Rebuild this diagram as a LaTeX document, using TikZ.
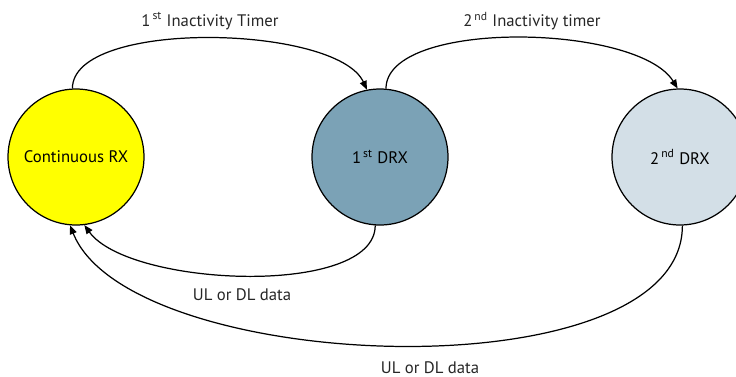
\documentclass[tikz,border=0pt]{standalone}
\usepackage{fontspec}
\setmainfont{PT Sans}
\usepackage{tikz}
\usetikzlibrary{arrows.meta, positioning}
\definecolor{contyellow}{HTML}{FFFF00}
\definecolor{drxone}{HTML}{7BA2B6}
\definecolor{drxtwo}{HTML}{D3DFE7}
\tikzset{
  %% State circle
  stnode/.style={
    circle, draw=black, fill=#1,
    minimum size=2.72cm, inner sep=0pt,
    line width=0.7pt, font=\fontsize{9.5}{11}\selectfont
  },
  stnode/.default=white,
  %% Arrow
  arr/.style={-{Triangle[length=5pt,width=4pt]},
              draw=black, line width=0.7pt},
  %% Label
  lbl/.style={font=\fontsize{9.5}{11}\selectfont, text=black!85}
}
\newcommand{\sth}[2]{#1\textsuperscript{\,#2}}

\begin{document}
\begin{tikzpicture}[x=0.02cm, y=-0.02cm]
  \useasboundingbox (0,0) rectangle (736,376);

  %% States
  \node[stnode=contyellow] (cont) at (76,157) {Continuous RX};
  \node[stnode=drxone]     (drx1) at (380,157) {\sth{1}{st} DRX};
  \node[stnode=drxtwo]     (drx2) at (680,157) {\sth{2}{nd} DRX};

  %% Labels
  \node[lbl] (lbtimer1) at (210,21)  {\sth{1}{st} Inactivity Timer};
  \node[lbl] (lbtimer2) at (532,21)  {\sth{2}{nd} Inactivity timer};
  \node[lbl] (lbdata1)  at (242,295) {UL or DL data};
  \node[lbl] (lbdata2)  at (430,368) {UL or DL data};

  %% Transitions
  \draw[arr] (cont.93) .. controls +(0,-70) and +(-30,-65) .. (drx1.101);
  \draw[arr] (drx1.85) .. controls +(0,-70) and +(-40,-65) .. (drx2.92);
  \draw[arr] (drx1.266) .. controls +(0,72) and +(45,62) .. (cont.277);
  \draw[arr] (drx2.272) .. controls +(0,170) and +(60,150) .. (cont.265);

\end{tikzpicture}
\end{document}
